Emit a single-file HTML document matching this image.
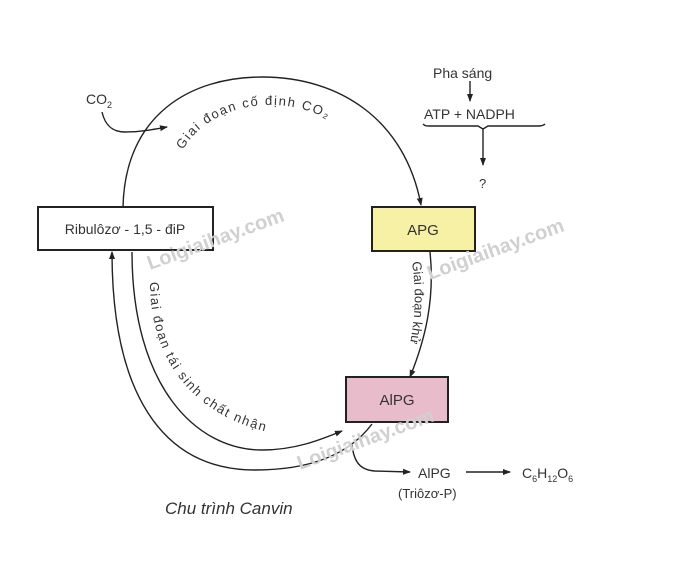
<!DOCTYPE html>
<html><head><style>
body{margin:0;background:#fff;}
svg text{font-family:"Liberation Sans",sans-serif;fill:#333;}
</style></head><body>
<svg width="683" height="565" viewBox="0 0 683 565" xmlns="http://www.w3.org/2000/svg">
<defs>
<marker id="a" markerWidth="8" markerHeight="8" refX="7" refY="4" orient="auto" markerUnits="userSpaceOnUse"><path d="M0,1 L8,4 L0,7 Z" fill="#222"/></marker>
<path id="tp" d="M183,150 C215,92 320,88 362,150"/>
<path id="rp" d="M412,262 C418,300 414,340 400,380"/>
<path id="lp" d="M150,282 C150,370 205,432 310,438"/>
</defs>
<g fill="none" stroke="#222" stroke-width="1.4">
<path d="M123,207 C125,115 190,77 262,77 C340,77 405,120 421,205" marker-end="url(#a)"/>
<path d="M102,112 C105,125 112,132 125,132 C140,132 150,130 167,127" marker-end="url(#a)"/>
<path d="M430,252 C435,300 425,340 410,377" marker-end="url(#a)"/>
<path d="M132,252 C132,385 195,450 262,450 C295,450 320,440 342,431" marker-end="url(#a)"/>
<path d="M372,424 C345,460 300,470 255,470 C160,470 112,390 112,252" marker-end="url(#a)"/>
<path d="M352,445 C354,462 360,470 375,471 L410,472" marker-end="url(#a)"/>
<path d="M466,472 L510,472" marker-end="url(#a)"/>
<path d="M470,81 L470,101" marker-end="url(#a)"/>
<path d="M423,124 C425,126 426,126 430,126 L478,126 L483,129 L488,126 L538,126 C542,126 544,125 545,124"/>
<path d="M483,129 L483,165" marker-end="url(#a)"/>
</g>
<rect x="38" y="207" width="175" height="43" fill="#fff" stroke="#222" stroke-width="2"/>
<rect x="372" y="207" width="103" height="44" fill="#f6f1a4" stroke="#222" stroke-width="2"/>
<rect x="346" y="377" width="102" height="45" fill="#e9bccb" stroke="#222" stroke-width="2"/>
<text x="125" y="234" font-size="14" text-anchor="middle">Ribulôzơ - 1,5 - điP</text>
<text x="423" y="235" font-size="15" text-anchor="middle">APG</text>
<text x="397" y="405" font-size="15" text-anchor="middle">AlPG</text>
<text x="86" y="104" font-size="14">CO<tspan font-size="9" dy="4">2</tspan></text>
<text x="433" y="78" font-size="14">Pha sáng</text>
<text x="424" y="119" font-size="14">ATP + NADPH</text>
<text x="479" y="188" font-size="13">?</text>
<text x="418" y="478" font-size="14">AlPG</text>
<text x="398" y="498" font-size="13">(Triôzơ-P)</text>
<text x="522" y="478" font-size="14">C<tspan font-size="9" dy="4">6</tspan><tspan dy="-4">H</tspan><tspan font-size="9" dy="4">12</tspan><tspan dy="-4">O</tspan><tspan font-size="9" dy="4">6</tspan></text>
<text x="165" y="514" font-size="17" font-style="italic">Chu trình Canvin</text>
<text font-size="13" letter-spacing="1.6"><textPath href="#tp">Giai đoạn cố định CO₂</textPath></text>
<text font-size="13"><textPath href="#rp">Giai đoạn khử</textPath></text>
<text font-size="13" letter-spacing="1.6"><textPath href="#lp">Giai đoạn tái sinh chất nhận</textPath></text>
<g font-size="20" font-weight="bold">
<text x="150" y="270" transform="rotate(-20 150 270)" style="fill:#d0d0d0">Loigiaihay.com</text>
<text x="430" y="280" transform="rotate(-20 430 280)" style="fill:#d0d0d0">Loigiaihay.com</text>
<text x="300" y="470" transform="rotate(-20 300 470)" style="fill:#d0d0d0">Loigiaihay.com</text>
</g>
</svg>
</body></html>
